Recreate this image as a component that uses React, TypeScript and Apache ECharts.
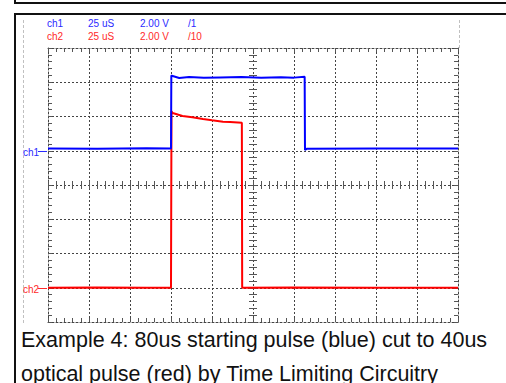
import React, { useEffect, useRef } from "react";
import * as echarts from "echarts";

// Time base: 25 us / division, 10 divisions
const timeMin = 0;
const timeMax = 250;
const timeStep = 25;
// Screen volts: 2.00 V / division, 8 divisions
const voltMin = -8;
const voltMax = 8;
const voltStep = 2;

// channel reference offsets on screen (in screen volts)
const ch1Offset = 2;
const ch2Offset = -6;

// ch1 (blue) samples: time in us, volts relative to ch1 reference
const blueTime = [0, 30, 60, 75, 75.2, 76, 80, 86, 95, 105, 118, 130, 142, 150, 156.5, 156.7, 158, 200, 250];
const blueVolts = [0.13, 0.12, 0.14, 0.13, 4.4, 4.36, 4.25, 4.3, 4.26, 4.28, 4.3, 4.27, 4.29, 4.27, 4.32, 0.05, 0.12, 0.13, 0.13];

// ch2 (red) samples: time in us, volts relative to ch2 reference
const redTime = [0, 30, 60, 75, 75.3, 76, 82, 88, 94.5, 100, 106.7, 111, 118.2, 118.4, 150, 200, 250];
const redVolts = [0, 0.02, 0, 0, 10.3, 10.2, 10.03, 9.95, 9.85, 9.78, 9.7, 9.68, 9.64, 0, 0.02, 0, 0];

// header labels
const channelNames = ["ch1", "ch2"];
const timebaseLabels = ["25 uS", "25 uS"];
const voltsLabels = ["2.00 V", "2.00 V"];
const probeLabels = ["/1", "/10"];
const channelColors = ["#2a2aff", "#ff2a2a"];

const captionLines = [
  "Example 4: 80us starting pulse (blue) cut to 40us",
  "optical pulse (red) by Time Limiting Circuitry",
];

const GRID = { left: 48, top: 48, width: 410, height: 274 };
const gridColor = "#444";
const tickColor = "#555";
const FONT = "Liberation Sans, Arial, sans-serif";

function xAxisDef(extra: any) {
  return {
    type: "value",
    min: timeMin,
    max: timeMax,
    interval: timeStep,
    axisLabel: { show: false },
    splitLine: { show: false },
    axisLine: { show: false, onZero: false },
    axisTick: { show: true, inside: true, length: 4, lineStyle: { color: tickColor, width: 1 } },
    minorTick: { show: true, splitNumber: 5, length: 4, lineStyle: { color: tickColor, width: 1 } },
    ...extra,
  };
}

function yAxisDef(extra: any) {
  return {
    type: "value",
    min: voltMin,
    max: voltMax,
    interval: voltStep,
    axisLabel: { show: false },
    splitLine: { show: false },
    axisLine: { show: false, onZero: false },
    axisTick: { show: true, inside: true, length: 4, lineStyle: { color: tickColor, width: 1 } },
    minorTick: { show: true, splitNumber: 5, length: 4, lineStyle: { color: tickColor, width: 1 } },
    ...extra,
  };
}

export default function App() {
  const ref = useRef<HTMLDivElement>(null);

  useEffect(() => {
    if (!ref.current) return;
    const chart = echarts.init(ref.current, undefined, { renderer: "svg" });

    const dashed = { color: gridColor, width: 1, type: [2, 2] };

    const headerTexts: any[] = [];
    const colX = [47, 88, 140, 188];
    channelNames.forEach((name, i) => {
      const row = [name, timebaseLabels[i], voltsLabels[i], probeLabels[i]];
      row.forEach((t, j) => {
        headerTexts.push({
          type: "text",
          x: colX[j],
          y: 18 + i * 13,
          style: {
            text: t,
            fill: channelColors[i],
            font: `10px ${FONT}`,
            verticalAlign: "top",
          },
        });
      });
    });

    const markerYs = [151, 288];
    const markers: any[] = [];
    channelNames.forEach((name, i) => {
      markers.push({
        type: "text",
        x: 23,
        y: markerYs[i] - 4,
        style: { text: name, fill: channelColors[i], font: `10px ${FONT}`, verticalAlign: "top" },
      });
      markers.push({
        type: "line",
        shape: { x1: 38, y1: markerYs[i] + 0.5, x2: 47, y2: markerYs[i] + 0.5 },
        style: { stroke: channelColors[i], lineWidth: 1 },
      });
    });

    chart.setOption({
      animation: false,
      backgroundColor: "#ffffff",
      grid: { ...GRID, containLabel: false },
      xAxis: [
        xAxisDef({
          position: "bottom",
          axisLine: { show: true, onZero: false, lineStyle: dashed },
          splitLine: { show: true, lineStyle: dashed },
        }),
        xAxisDef({ position: "top", axisLine: { show: true, onZero: false, lineStyle: dashed } }),
        xAxisDef({ position: "bottom", offset: -GRID.height / 2 }),
        xAxisDef({
          position: "bottom",
          offset: -GRID.height / 2,
          axisTick: { show: true, inside: false, length: 4, lineStyle: { color: tickColor, width: 1 } },
          minorTick: { show: true, splitNumber: 5, length: 4, lineStyle: { color: tickColor, width: 1 } },
        }),
      ],
      yAxis: [
        yAxisDef({
          position: "left",
          axisLine: { show: true, onZero: false, lineStyle: dashed },
          splitLine: { show: true, lineStyle: dashed },
        }),
        yAxisDef({ position: "right", axisLine: { show: true, onZero: false, lineStyle: dashed } }),
        yAxisDef({ position: "left", offset: -GRID.width / 2 }),
        yAxisDef({
          position: "left",
          offset: -GRID.width / 2,
          axisTick: { show: true, inside: false, length: 4, lineStyle: { color: tickColor, width: 1 } },
          minorTick: { show: true, splitNumber: 5, length: 4, lineStyle: { color: tickColor, width: 1 } },
        }),
      ],
      series: [
        {
          name: "ch2",
          type: "line",
          xAxisIndex: 0,
          yAxisIndex: 0,
          showSymbol: false,
          data: redTime.map((t, i) => [t, redVolts[i] + ch2Offset]),
          lineStyle: { color: "#ff0000", width: 2 },
          itemStyle: { color: "#ff0000" },
          z: 3,
        },
        {
          name: "ch1",
          type: "line",
          xAxisIndex: 0,
          yAxisIndex: 0,
          showSymbol: false,
          data: blueTime.map((t, i) => [t, blueVolts[i] + ch1Offset]),
          lineStyle: { color: "#0000ff", width: 2 },
          itemStyle: { color: "#0000ff" },
          z: 4,
        },
      ],
      graphic: [
        // frames
        { type: "rect", shape: { x: 14, y: 2, width: 500, height: 2 }, style: { fill: "#111", stroke: null } },
        { type: "rect", shape: { x: 14, y: 0, width: 2, height: 4 }, style: { fill: "#111", stroke: null } },
        { type: "rect", shape: { x: 14, y: 13, width: 500, height: 2 }, style: { fill: "#111", stroke: null } },
        { type: "rect", shape: { x: 14, y: 13, width: 2, height: 380 }, style: { fill: "#111", stroke: null } },
        // light guide lines
        {
          type: "line",
          shape: { x1: 23.5, y1: 20, x2: 23.5, y2: 323 },
          style: { stroke: "#c0c0c0", lineWidth: 1, lineDash: [3, 2] },
        },
        {
          type: "line",
          shape: { x1: 459.5, y1: 20, x2: 459.5, y2: 48 },
          style: { stroke: "#c0c0c0", lineWidth: 1, lineDash: [3, 2] },
        },
        ...headerTexts,
        ...markers,
        ...captionLines.map((t, i) => ({
          type: "text",
          x: 21,
          y: 329 + i * 34,
          style: { text: t, fill: "#111", font: `21.5px ${FONT}`, verticalAlign: "top" },
        })),
      ],
    });

    return () => chart.dispose();
  }, []);

  return (
    <div
      ref={ref}
      style={{ position: "absolute", left: 0, top: 0, width: 506, height: 383, background: "#fff", overflow: "hidden" }}
    />
  );
}
